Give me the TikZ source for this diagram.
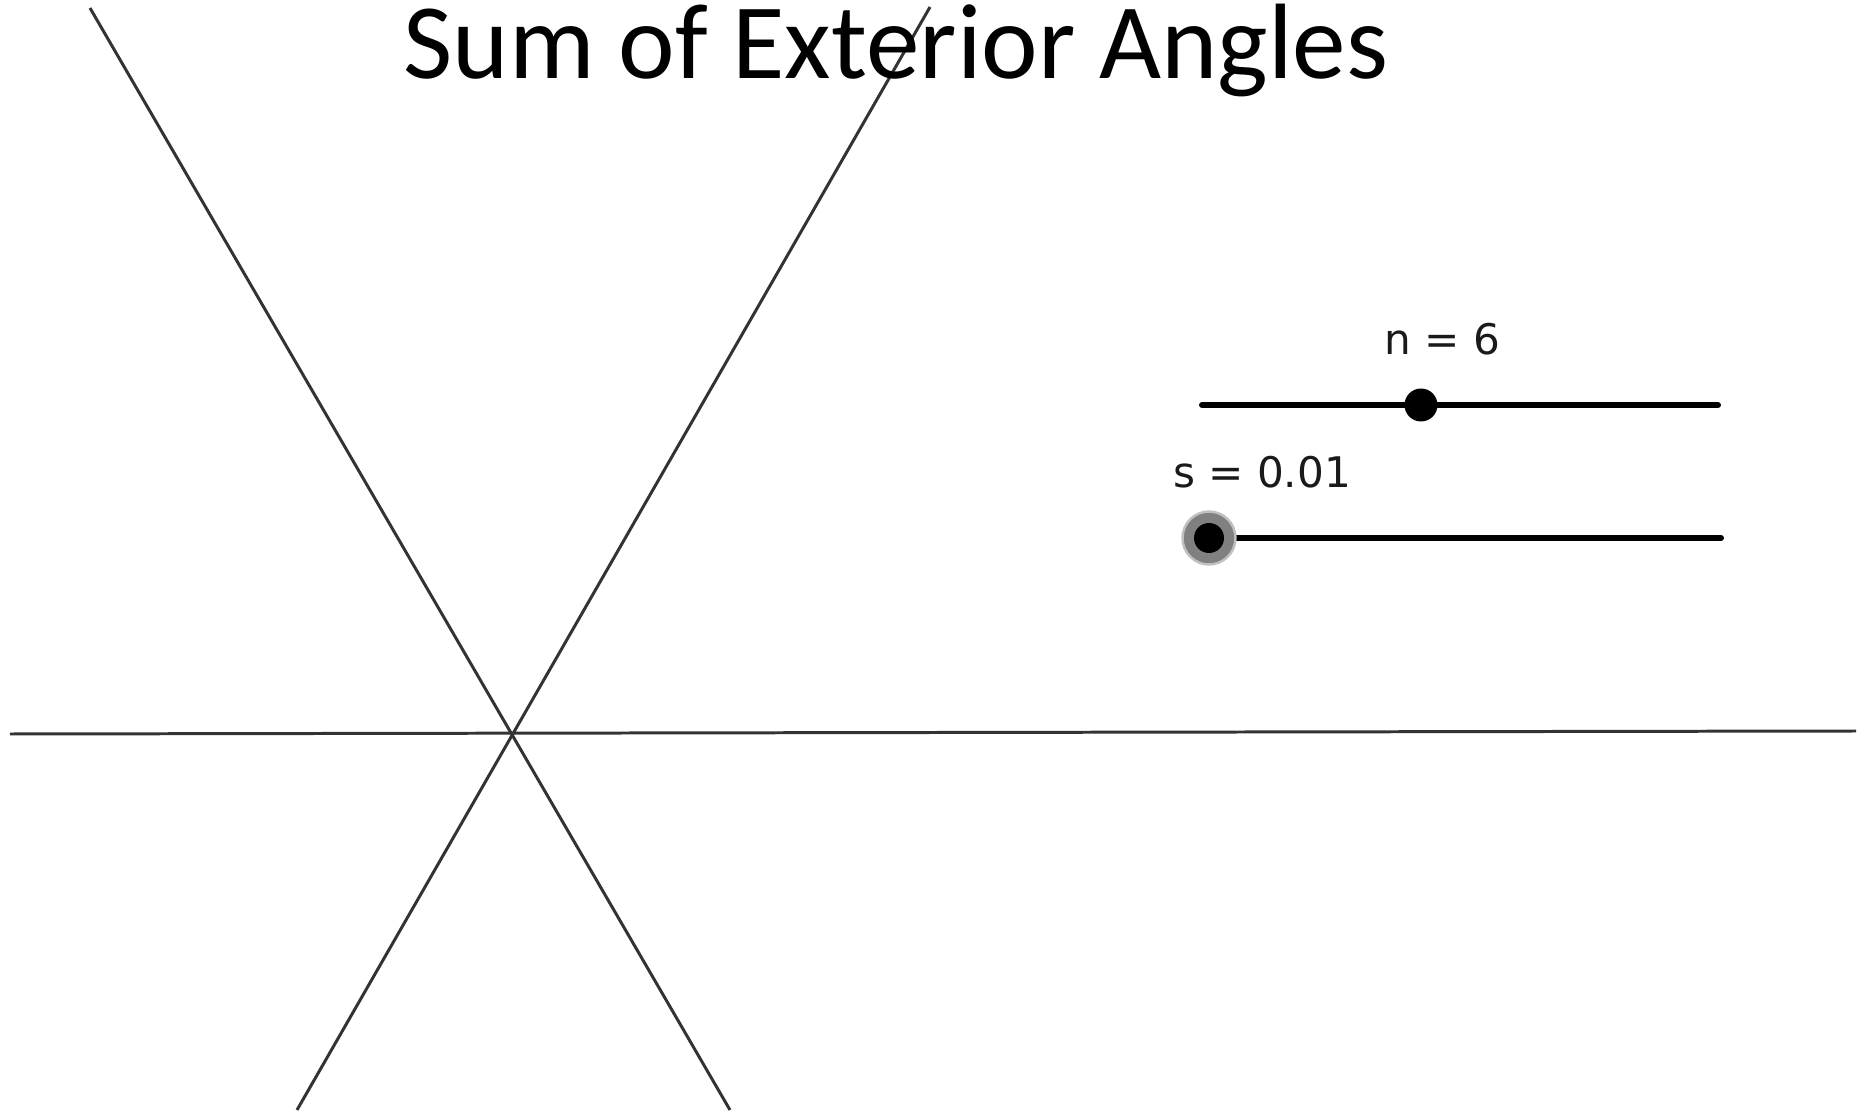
\documentclass[tikz,border=0pt]{standalone}
\usepackage{fontspec}
\usepackage{tikz}
\usepackage{xcolor}
\usetikzlibrary{positioning,calc}
\setmainfont{Carlito}
\newfontfamily\ggbfont{DejaVu Sans}
\definecolor{ink}     {HTML}{1A1A1A}
\definecolor{lineink} {HTML}{333333}
\definecolor{ringgray}{HTML}{808080}
\definecolor{halo}    {HTML}{C0C0C0}
\tikzset{
  title/.style    ={font=\fontsize{61}{73}\selectfont, text=black,
                    inner sep=0pt, anchor=base},
  axisline/.style ={draw=lineink, line width=1.7pt},
  track/.style    ={draw=black, line width=3.4pt, line cap=round},
  knob/.style     ={circle, fill=black, inner sep=0pt, minimum size=0.66cm},
  ring/.style     ={circle, fill=ringgray, draw=halo, line width=1.4pt,
                    inner sep=0pt, minimum size=1.06cm},
  sliderlabel/.style={font=\ggbfont\fontsize{24}{28}\selectfont,
                    text=ink, inner sep=0pt, anchor=base},
}
\begin{document}
\begin{tikzpicture}[x=0.02cm,y=-0.02cm]
  \useasboundingbox (0,0) rectangle (1867,1114);

  % the three lines through one point
  \coordinate (O)  at (513,732);
  \coordinate (a1) at (90,8);    \coordinate (a2) at (730,1110);
  \coordinate (b1) at (930,7);   \coordinate (b2) at (297,1110);
  \coordinate (h1) at (10,734);  \coordinate (h2) at (1856,731);
  \draw[axisline] (a1) -- (a2);
  \draw[axisline] (b1) -- (b2);
  \draw[axisline] (h1) -- (h2);

  \node[title] (ttl) at (896,79) {Sum of Exterior Angles};

  % slider n
  \coordinate (n1) at (1202,405); \coordinate (n2) at (1718,405);
  \draw[track] (n1) -- (n2);
  \node[knob] (nk) at (1421,405) {};
  \node[sliderlabel] (nlab) at (1442,355) {n = 6};

  % slider s
  \coordinate (s1) at (1209,538); \coordinate (s2) at (1721,538);
  \draw[track] (s1) -- (s2);
  \node[ring] (sr) at (s1) {};
  \node[knob,minimum size=0.6cm] (sk) at (s1) {};
  \node[sliderlabel] (slab) at (1262,488) {s = 0.01};
\end{tikzpicture}
\end{document}
